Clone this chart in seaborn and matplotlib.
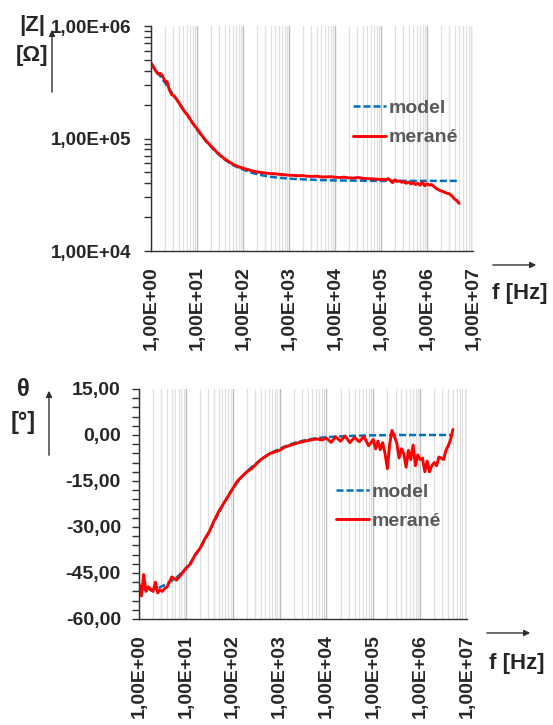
import matplotlib
matplotlib.use("Agg")
import matplotlib.pyplot as plt
import matplotlib.ticker as mticker
from matplotlib.patches import FancyArrowPatch
import pandas as pd
import seaborn as sns

# measured frequencies [Hz]
freq = [1.0, 1.12, 1.26, 1.41, 1.58, 1.78, 2.0, 2.24, 2.51, 2.82, 3.16, 3.55, 3.98, 5.01, 6.31, 7.94,
        10, 12.6, 15.8, 20, 25.1, 31.6, 39.8, 50.1, 63.1, 79.4,
        100, 126, 158, 200, 251, 316, 398, 501, 631, 794,
        1000, 1260, 1580, 2000, 2510, 3160, 3980, 5010, 6310, 7940,
        1.0e4, 1.26e4, 1.58e4, 2.0e4, 2.51e4, 3.16e4, 3.98e4, 5.01e4, 6.31e4, 7.94e4,
        1.0e5, 1.12e5, 1.26e5, 1.41e5, 1.58e5, 1.78e5, 2.0e5, 2.24e5, 2.51e5, 2.82e5,
        3.16e5, 3.55e5, 3.98e5, 4.47e5, 5.01e5, 5.62e5, 6.31e5, 7.08e5, 7.94e5, 8.91e5,
        1.0e6, 1.12e6, 1.26e6, 1.41e6, 1.58e6, 1.78e6, 2.0e6, 2.24e6, 2.51e6, 2.82e6,
        3.16e6, 3.55e6, 3.98e6, 4.47e6, 5.0e6]

z_meas = [4.7e5, 4.35e5, 4.0e5, 3.75e5, 3.8e5, 3.6e5, 3.25e5, 3.2e5, 2.7e5, 2.45e5, 2.4e5, 2.25e5, 2.1e5, 1.8e5, 1.6e5, 1.38e5,
          1.22e5, 1.07e5, 9.5e4, 8.6e4, 7.8e4, 7.1e4, 6.6e4, 6.2e4, 5.85e4, 5.6e4,
          5.45e4, 5.3e4, 5.15e4, 5.05e4, 4.98e4, 4.92e4, 4.88e4, 4.85e4, 4.8e4, 4.76e4,
          4.72e4, 4.7e4, 4.66e4, 4.68e4, 4.62e4, 4.6e4, 4.62e4, 4.56e4, 4.55e4, 4.58e4,
          4.52e4, 4.5e4, 4.53e4, 4.47e4, 4.45e4, 4.5e4, 4.42e4, 4.4e4, 4.38e4, 4.35e4,
          4.32e4, 4.35e4, 4.28e4, 4.4e4, 4.25e4, 4.05e4, 4.3e4, 4.15e4, 4.2e4, 4.08e4,
          4.12e4, 4.0e4, 4.1e4, 3.95e4, 4.05e4, 3.9e4, 4.0e4, 3.85e4, 4.1e4, 3.8e4,
          3.95e4, 3.85e4, 3.9e4, 3.75e4, 3.6e4, 3.5e4, 3.42e4, 3.38e4, 3.3e4, 3.25e4,
          3.2e4, 3.05e4, 2.9e4, 2.8e4, 2.65e4]

ph_meas = [-48.5, -52.5, -45.5, -51.0, -49.5, -50.5, -51.0, -48.0, -51.5, -50.5, -51.0, -50.0, -49.5, -46.3, -47.3, -45.5,
           -43.5, -42.0, -39.0, -37.0, -34.0, -31.5, -28.0, -25.0, -22.5, -20.0,
           -17.5, -15.0, -13.5, -12.0, -11.0, -9.5, -8.0, -7.0, -6.0, -5.5,
           -5.0, -4.0, -3.5, -3.0, -2.5, -2.2, -1.8, -1.5, -1.3, -1.6,
           -1.0, -2.4, -0.6, -2.0, -0.3, -2.5, -0.8, -2.2, -0.5, -3.5,
           -1.5, -4.5, -2.0, -4.8, -2.5, -6.0, -11.0, -3.0, 1.5, -0.5,
           -2.5, -7.5, -4.5, -6.0, -10.5, -5.0, -8.0, -3.3, -10.0, -6.5,
           -8.0, -7.5, -12.0, -8.5, -12.0, -10.0, -9.0, -10.0, -7.2, -7.5,
           -8.0, -5.0, -3.5, -1.5, 1.8]

# model curve
freq_model = [1, 1.58, 2.51, 3.98, 6.31, 10, 15.8, 25.1, 39.8, 63.1, 100, 158, 251, 398, 631,
              1000, 1580, 2510, 3980, 6310, 1e4, 3.16e4, 1e5, 3.16e5, 1e6, 3.16e6, 5e6]
z_model = [4.6e5, 3.6e5, 2.75e5, 2.1e5, 1.6e5, 1.2e5, 9.4e4, 7.7e4, 6.5e4, 5.75e4, 5.3e4, 4.95e4, 4.72e4, 4.57e4, 4.47e4,
           4.4e4, 4.35e4, 4.32e4, 4.28e4, 4.26e4, 4.24e4, 4.22e4, 4.2e4, 4.2e4, 4.2e4, 4.2e4, 4.2e4]
ph_model = [-50.0, -50.5, -50.0, -48.5, -46.5, -43.5, -39.5, -34.5, -28.5, -22.5, -17.5, -13.5, -10.5, -8.0, -6.0,
            -4.5, -3.2, -2.2, -1.5, -1.0, -0.7, -0.3, -0.1, 0.0, 0.0, 0.0, 0.0]

meas = pd.DataFrame({"f": freq, "z": z_meas, "ph": ph_meas})
model = pd.DataFrame({"f": freq_model, "z": z_model, "ph": ph_model})

sns.set_style("white")
plt.rcParams["font.family"] = ["Liberation Sans", "DejaVu Sans"]
plt.rcParams["font.weight"] = "bold"

W, H = 553, 725
fig = plt.figure(figsize=(W / 100, H / 100), dpi=100)

def px(x0, y0, x1, y1):
    return [x0 / W, 1 - y1 / H, (x1 - x0) / W, (y1 - y0) / H]

ax1 = fig.add_axes(px(151, 26, 473, 251))
ax2 = fig.add_axes(px(139, 389, 467, 619))

blue = "#0070C0"
red = "#FF0000"
dash = (0, (2.8, 1.2))

for ax, col in [(ax1, "z"), (ax2, "ph")]:
    sns.lineplot(data=model, x="f", y=col, ax=ax, color=blue, lw=1.8, linestyle=dash,
                 estimator=None, label="model")
    sns.lineplot(data=meas, x="f", y=col, ax=ax, color=red, lw=2.1,
                 estimator=None, label="merané")
    ax.set_xscale("log")
    ax.set_xlim(1, 1e7)
    ax.xaxis.set_major_locator(mticker.LogLocator(base=10, numticks=10))
    ax.xaxis.set_minor_locator(mticker.LogLocator(base=10, subs=range(2, 10), numticks=100))
    ax.xaxis.set_major_formatter(mticker.FuncFormatter(lambda v, p: f"{v:.2E}".replace(".", ",")))
    ax.xaxis.set_minor_formatter(mticker.NullFormatter())
    ax.grid(True, which="major", axis="x", color="#bdbdbd", lw=1.0)
    ax.grid(True, which="minor", axis="x", color="#e0e0e0", lw=0.9)
    ax.set_axisbelow(True)
    for s in ["top", "right"]:
        ax.spines[s].set_visible(False)
    for s in ["left", "bottom"]:
        ax.spines[s].set_color("#303030")
        ax.spines[s].set_linewidth(1.0)
    ax.tick_params(axis="x", which="major", length=5, width=1, color="#303030", pad=6,
                   labelsize=14, labelrotation=90)
    ax.tick_params(axis="x", which="minor", length=4, width=1, color="#303030")
    ax.tick_params(axis="y", which="both", left=True, length=5, width=1, color="#303030")
    ax.set_xlabel("")
    ax.set_ylabel("")
    for lab in ax.get_xticklabels() + ax.get_yticklabels():
        lab.set_fontweight("bold")

ax1.set_yscale("log")
ax1.set_ylim(1e4, 1e6)
ax1.yaxis.set_major_locator(mticker.LogLocator(base=10, numticks=10))
ax1.yaxis.set_minor_locator(mticker.LogLocator(base=10, subs=range(2, 10), numticks=100))
ax1.yaxis.set_major_formatter(mticker.FuncFormatter(lambda v, p: f"{v:.2E}".replace(".", ",")))
ax1.yaxis.set_minor_formatter(mticker.NullFormatter())
ax1.tick_params(axis="y", which="major", labelsize=13.5, pad=9)

ax2.set_ylim(-60, 15)
ax2.yaxis.set_major_locator(mticker.MultipleLocator(15))
ax2.yaxis.set_minor_locator(mticker.MultipleLocator(3))
ax2.yaxis.set_major_formatter(mticker.FuncFormatter(lambda v, p: f"{v:.2f}".replace(".", ",")))
ax2.tick_params(axis="y", which="major", labelsize=14, pad=8)

for ax, (lx, ly) in [(ax1, (353, 123)), (ax2, (336, 506.5))]:
    ax.legend(loc="center left", bbox_to_anchor=(lx / W, 1 - ly / H), bbox_transform=fig.transFigure,
              frameon=False, handlelength=1.7, handletextpad=0.15, borderpad=0, borderaxespad=0,
              labelspacing=0.6, labelcolor="#595959", prop={"weight": "bold", "size": 14})

def arrow(x0, y0, x1, y1):
    fig.add_artist(FancyArrowPatch((x0 / W, 1 - y0 / H), (x1 / W, 1 - y1 / H),
                                   transform=fig.transFigure, arrowstyle="-|>",
                                   mutation_scale=9, lw=1.0, color="#303030"))

def label(x, y, s, size=16):
    fig.text(x / W, 1 - y / H, s, ha="center", va="center", fontsize=size, fontweight="bold")

arrow(52, 95, 52, 27)
label(32, 25, "|Z|")
label(32, 56, "[Ω]")
arrow(490, 265, 539, 265)
label(520, 293, "f [Hz]")

arrow(49, 458, 49, 388)
label(23, 389, "θ", 17)
label(23, 422, "[°]", 17)
arrow(484, 633, 533, 633)
label(517, 663, "f [Hz]")

fig.savefig("out.png", dpi=100)
